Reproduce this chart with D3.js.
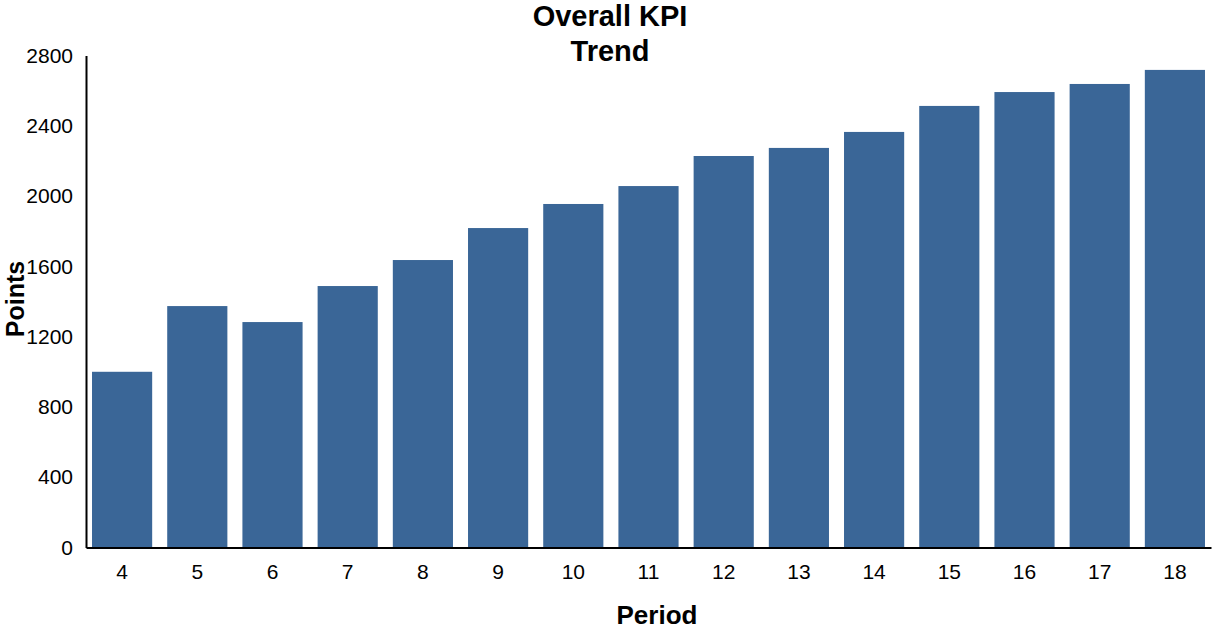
<!DOCTYPE html>
<html>
<head>
<meta charset="utf-8">
<script src="https://cdn.jsdelivr.net/npm/d3@7"></script>
<style>
  body { margin: 0; background: #fff; }
  text { font-family: "Liberation Sans", Arial, sans-serif; fill: #000; }
</style>
</head>
<body>
<svg id="chart" width="1214" height="631"></svg>
<script>
// data
let periods = ["4", "5", "6", "7", "8", "9", "10", "11", "12", "13", "14", "15", "16", "17", "18"];
let points = [1000, 1374, 1283, 1488, 1636, 1818, 1955, 2057, 2228, 2274, 2365, 2513, 2592, 2638, 2718];
let yTicks = [0, 400, 800, 1200, 1600, 2000, 2400, 2800];

let svg = d3.select("#chart");
let margin = {left: 86, right: 3, top: 55.5, bottom: 83.5};
let width = +svg.attr("width"), height = +svg.attr("height");

let x = d3.scaleBand()
    .domain(periods)
    .range([margin.left, width - margin.right])
    .paddingInner(0.2)
    .paddingOuter(0.08);

let y = d3.scaleLinear()
    .domain([0, 2800])
    .range([height - margin.bottom, margin.top]);

svg.selectAll(".bar")
    .data(points)
    .enter().append("rect")
    .attr("class", "bar")
    .attr("x", (d, i) => x(periods[i]))
    .attr("y", d => y(d))
    .attr("width", x.bandwidth())
    .attr("height", d => y(0) - y(d))
    .attr("fill", "#3a6697");

// y axis
let yAxis = svg.append("g")
    .attr("transform", "translate(" + margin.left + ",0)")
    .call(d3.axisLeft(y).tickValues(yTicks).tickFormat(d3.format("d")).tickSize(0).tickPadding(13));
yAxis.select(".domain").attr("stroke", "#000").attr("stroke-width", 2);
yAxis.selectAll("text").style("font-size", "21px").attr("dy", "0.32em");

// x axis
let xAxis = svg.append("g")
    .attr("transform", "translate(0," + y(0) + ")")
    .call(d3.axisBottom(x).tickSize(0).tickPadding(17));
xAxis.select(".domain").attr("stroke", "#000").attr("stroke-width", 2);
xAxis.selectAll("text").style("font-size", "21px");

// titles
svg.append("text")
    .attr("x", 610).attr("y", 26)
    .attr("text-anchor", "middle")
    .style("font-size", "29px").style("font-weight", "bold")
    .text("Overall KPI");
svg.append("text")
    .attr("x", 610).attr("y", 61)
    .attr("text-anchor", "middle")
    .style("font-size", "29px").style("font-weight", "bold")
    .text("Trend");

svg.append("text")
    .attr("x", 657).attr("y", 624)
    .attr("text-anchor", "middle")
    .style("font-size", "26px").style("font-weight", "bold")
    .text("Period");

svg.append("text")
    .attr("transform", "translate(24,299) rotate(-90)")
    .attr("text-anchor", "middle")
    .style("font-size", "25px").style("font-weight", "bold")
    .text("Points");
</script>
</body>
</html>
